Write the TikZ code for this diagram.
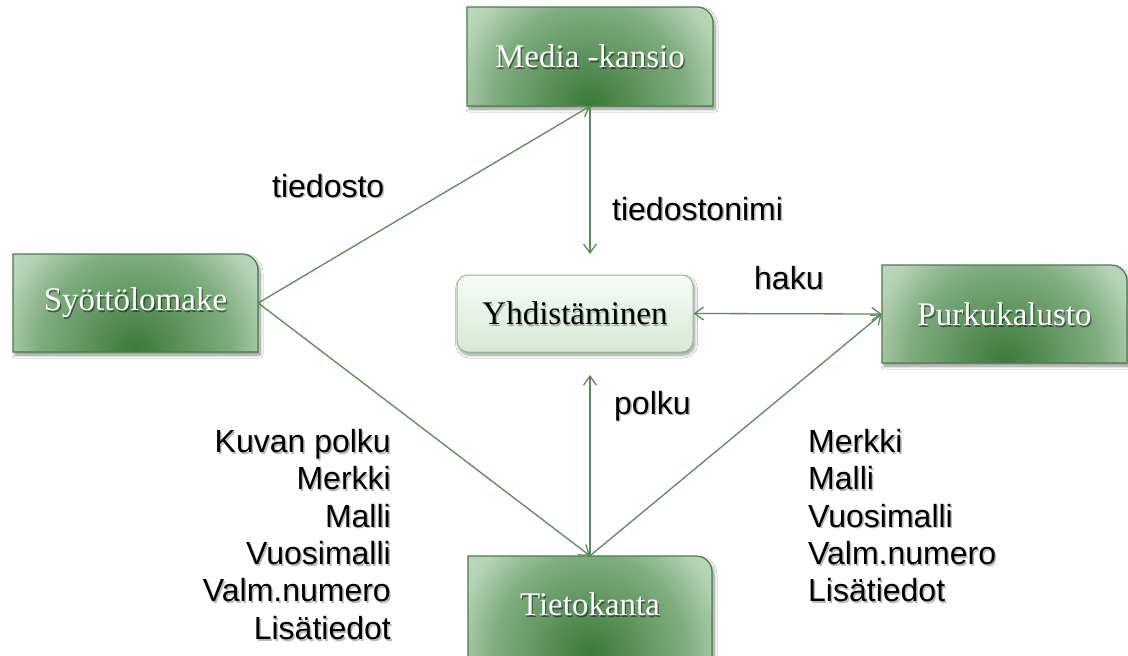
\documentclass[tikz,border=0pt]{standalone}
\usepackage{fontspec}
\setmainfont{Liberation Serif}
\newfontfamily\labelfont{Liberation Sans}
\usetikzlibrary{arrows.meta,shadows.blur}
\definecolor{gdark}{HTML}{3A7A3A}
\definecolor{gmid}{HTML}{7FAC7F}
\definecolor{gpale}{HTML}{B4D2B4}
\definecolor{glight}{HTML}{C6DFC6}
\definecolor{gline}{HTML}{5A8C5A}
\definecolor{gborder}{HTML}{4C7C4C}
\definecolor{ytop}{HTML}{F7FBF7}
\definecolor{ybot}{HTML}{D6E9D6}
\definecolor{ydraw}{HTML}{93B993}
\pgfdeclareradialshading{boxshade}{\pgfpoint{0bp}{0bp}}{color(0bp)=(gdark); color(14bp)=(gmid); color(20bp)=(gpale); color(25bp)=(glight); color(50bp)=(glight)}
\newcommand\gboxpath[4]{(#1,#2) -- ({#3-16},#2) arc[start angle=-90,end angle=0,radius=16] -- (#3,#4) -- (#1,#4) -- cycle}
\newcommand\gbox[6]{%
  \path[blur shadow={shadow xshift=2pt,shadow yshift=-3pt,shadow opacity=45,shadow blur steps=8,shadow blur radius=3pt}] \gboxpath{#2}{#3}{#4}{#5};
  \begin{scope}
    \clip \gboxpath{#2}{#3}{#4}{#5};
    \fill[glight] (#2,#3) rectangle (#4,#5);
    \shade[shading=boxshade] ({(#2+#4)/2},{#3+98}) ellipse [x radius={0.7*(#4-#2)}, y radius={1.8*98}];
  \end{scope}
  \draw[gborder,line width=1.2pt] \gboxpath{#2}{#3}{#4}{#5};
  \node[boxsh] (#1-sh) at ({(#2+#4)/2+1.3},{(#3+#5)/2+1.8}) {#6};
  \node[boxtxt,minimum width={(#4-#2)*1pt},minimum height={(#5-#3)*1pt}] (#1) at ({(#2+#4)/2},{(#3+#5)/2}) {#6};
}
\newcommand\slabel[4]{%
  \node[lblsh,#3] (#1-sh) at ([shift={(1.5,1.8)}]#2) {#4};
  \node[lbl,#3] (#1) at (#2) {#4};
}
\begin{document}
\begin{tikzpicture}[x=1pt,y=-1pt,
  conn/.style={draw=gline,line width=1.3pt,-{Straight Barb[length=9pt,width=13pt]}},
  boxtxt/.style={font=\fontsize{33}{40}\selectfont,text=white,inner sep=0pt},
  boxsh/.style={font=\fontsize{33}{40}\selectfont,text=black,opacity=0.45,inner sep=0pt},
  lbl/.style={font=\labelfont\fontsize{32}{37.4}\selectfont,inner sep=0pt},
  lblsh/.style={lbl,text=black!60,opacity=0.45}
]
\clip (0,0) rectangle (1128,656);
\fill[white] (0,0) rectangle (1128,656);

\gbox{media}{467}{7}{713}{106}{Media -kansio}
\gbox{syot}{13}{254}{258}{352}{Syöttölomake}
\gbox{purku}{882}{265}{1127}{363}{Purkukalusto}
\gbox{tieto}{468}{556}{712}{680}{}
\node[boxsh] (tieto-sh) at (591.3,605.8) {Tietokanta};
\node[boxtxt] (tieto-t) at (590,604) {Tietokanta};

\node[draw=ydraw,line width=1pt,rounded corners=11pt,top color=ytop,bottom color=ybot,
      minimum width=236pt,minimum height=77pt,
      blur shadow={shadow xshift=1.5pt,shadow yshift=-3pt,shadow opacity=40,shadow blur steps=8,shadow blur radius=3pt}]
  (yhd) at (575,313.5) {};
\node[boxsh,text=black!70,opacity=0.4] (yhd-sh) at (576.3,315.5) {Yhdistäminen};
\node[boxtxt,text=black] (yhd-t) at (575,313.5) {Yhdistäminen};

\coordinate (mtip) at (590,254);
\coordinate (ttip) at (590,375);

\draw[conn] (syot.east) -- (media.south);
\draw[conn] (syot.east) -- (tieto.north);
\draw[conn] (media.south) -- (mtip);
\draw[conn] (tieto.north) -- (ttip);
\draw[conn,{Straight Barb[length=9pt,width=13pt]}-{Straight Barb[length=9pt,width=13pt]}] (yhd.east) -- (purku.west);
\draw[conn] (tieto.north) -- (purku.west);

\slabel{ltiedosto}{272,197}{anchor=base west}{tiedosto}
\slabel{ltnimi}{612,220}{anchor=base west}{tiedostonimi}
\slabel{lhaku}{754,289}{anchor=base west}{haku}
\slabel{lpolku}{614,414}{anchor=base west}{polku}
\slabel{lleft}{391,429}{anchor=north east,align=right}{Kuvan polku\\Merkki\\Malli\\Vuosimalli\\Valm.numero\\Lisätiedot}
\slabel{lright}{808,429}{anchor=north west,align=left}{Merkki\\Malli\\Vuosimalli\\Valm.numero\\Lisätiedot}
\end{tikzpicture}
\end{document}
